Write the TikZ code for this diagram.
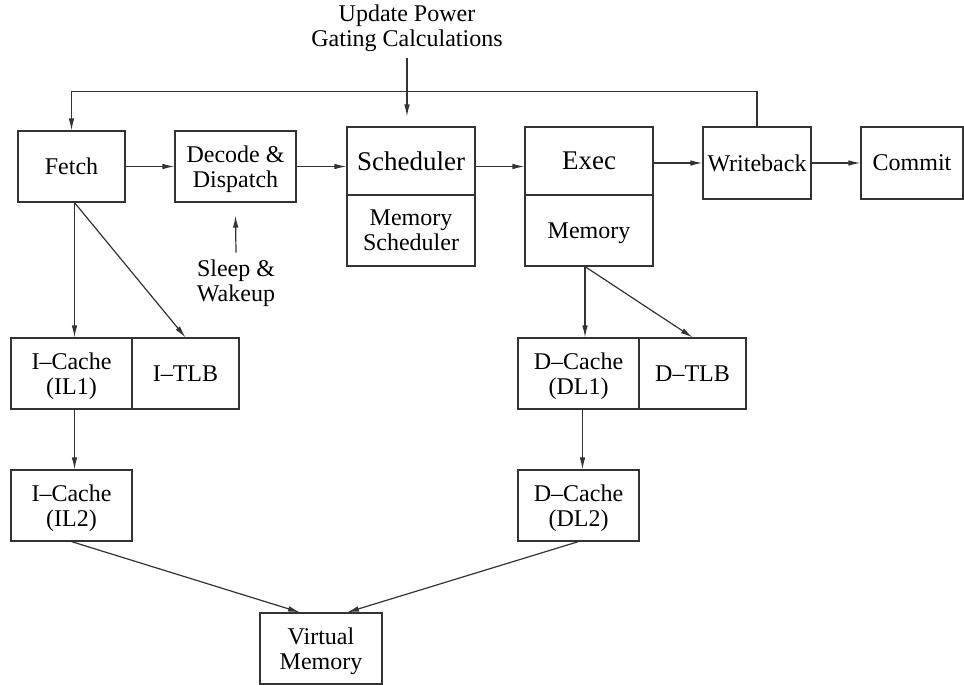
\documentclass[tikz,border=0pt]{standalone}
\usepackage{fontspec}
\setmainfont{Liberation Serif}
\usetikzlibrary{arrows.meta}
\begin{document}
\begin{tikzpicture}[x=.5pt,y=-.5pt,every node/.style={font=\fontsize{12}{12.5}\selectfont,align=center},
 box/.style={draw=black!80,line width=.6pt,minimum height=35.5pt,inner sep=1pt,text depth=0pt},
 big/.style={font=\fontsize{13.5}{14}\selectfont},
 conn/.style={draw=black!80,line width=.6pt,-{Latex[length=6pt,width=2.8pt]}}]
 \useasboundingbox (0,0) rectangle (964,685);
 % pipeline row
 \node[box,minimum width=53.5pt] (fetch) at (71.5,166.5) {Fetch};
 \node[box,minimum width=60.5pt] (decode) at (235.5,166.5) {Decode \&\\Dispatch};
 \node[box,big,minimum width=64pt,minimum height=34pt] (sched) at (411,161) {Scheduler};
 \node[box,minimum width=64pt] (memsched) at (411,230.5) {Memory\\Scheduler};
 \node[box,big,minimum width=64pt,minimum height=34pt] (exec) at (589,161) {Exec};
 \node[box,minimum width=64pt] (mem) at (589,230.5) {Memory};
 \node[box,minimum width=54pt,minimum height=36pt] (wb) at (757,163) {Writeback};
 \node[box,minimum width=51pt,minimum height=36pt] (commit) at (912,163) {Commit};
 % caches
 \node[box,minimum width=60.5pt] (il1) at (71.5,373.5) {I--Cache\\(IL1)};
 \node[box,minimum width=53.5pt] (itlb) at (185.5,373.5) {I--TLB};
 \node[box,minimum width=60.5pt] (il2) at (71.5,505.5) {I--Cache\\(IL2)};
 \node[box,minimum width=60.5pt] (dl1) at (578.5,373.5) {D--Cache\\(DL1)};
 \node[box,minimum width=53.5pt] (dtlb) at (692.5,373.5) {D--TLB};
 \node[box,minimum width=60.5pt] (dl2) at (578.5,505.5) {D--Cache\\(DL2)};
 \node[box,minimum width=61pt] (vm) at (321,648.5) {Virtual\\Memory};
 % labels
 \node (power) at (407,28) {Update Power\\Gating Calculations};
 \node (sleep) at (236,283) {Sleep \&\\Wakeup};
 % connectors
 \draw[conn] (power.south) -- ([yshift=5pt]power.south |- sched.north);
 \draw[conn] (wb.north) -- ++(0,-35) -| (fetch.north);
 \draw[conn] (fetch) -- (decode);
 \draw[conn] (decode.east) -- (decode.east -| sched.west);
 \draw[conn] (decode.east -| sched.east) -- (decode.east -| exec.west);
 \draw[conn] (exec.east |- wb.west) -- (wb.west);
 \draw[conn] (wb.east) -- (commit.west);
 \draw[conn] (sleep.north) -- ([yshift=-6.5pt]decode.south);
 \draw[conn] ([xshift=1.5pt]fetch.south) -- ([xshift=1.5pt]il1.north);
 \draw[conn] ([xshift=1.5pt]fetch.south) -- (itlb.north);
 \draw[conn] ([xshift=1.5pt]il1.south) -- ([xshift=1.5pt]il2.north);
 \draw[conn] (il2.south) -- ([xshift=-10.5pt]vm.north);
 \draw[conn] ([xshift=-2pt]mem.south) -- ([xshift=-2pt]mem.south |- dl1.north);
 \draw[conn] ([xshift=-2pt]mem.south) -- (dtlb.north);
 \draw[conn] ([xshift=2pt]dl1.south) -- ([xshift=2pt]dl2.north);
 \draw[conn] (dl2.south) -- ([xshift=13pt]vm.north);
\end{tikzpicture}
\end{document}
